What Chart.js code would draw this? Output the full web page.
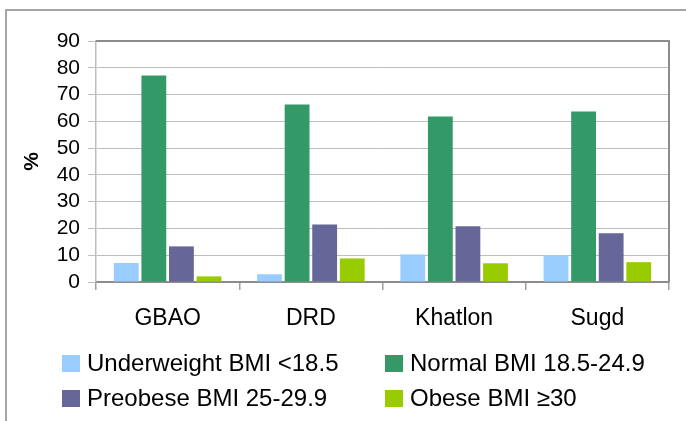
<!DOCTYPE html>
<html>
<head>
<meta charset="utf-8">
<script src="https://cdn.jsdelivr.net/npm/chart.js@4.4.1/dist/chart.umd.min.js"></script>
<style>
  html, body { margin: 0; padding: 0; background: #fff; }
  #wrap { width: 686px; height: 421px; position: relative; }
</style>
</head>
<body>
<div id="wrap"><canvas id="bmi"></canvas></div>
<script>
// --- DATA ---
const regions = ["GBAO", "DRD", "Khatlon", "Sugd"];
const underweight = [7.1, 2.9, 10.3, 10.0];
const normal = [77.1, 66.3, 61.8, 63.7];
const preobese = [13.3, 21.5, 20.8, 18.2];
const obese = [2.1, 8.8, 7.0, 7.4];
const yTicks = [0, 10, 20, 30, 40, 50, 60, 70, 80, 90];

const FONT = "'Liberation Sans', Arial, sans-serif";

// outer frame + plot box
const framePlugin = {
    id: "frame",
    beforeDraw(chart) {
        const ctx = chart.ctx;
        ctx.save();
        ctx.strokeStyle = "#a6a6a6";
        ctx.lineWidth = 2;
        ctx.strokeRect(6, 10, 760, 500);
        ctx.restore();
    },
    afterDraw(chart) {
        const a = chart.chartArea;
        const ctx = chart.ctx;
        ctx.save();
        ctx.strokeStyle = "#8c8c8c";
        ctx.lineWidth = 2;
        ctx.beginPath();
        ctx.moveTo(a.left, a.top);
        ctx.lineTo(a.right, a.top);
        ctx.lineTo(a.right, a.bottom);
        ctx.stroke();
        ctx.restore();
    }
};

// legend laid out 2 x 2 like the original
const gridLegend = {
    id: "gridLegend",
    afterDraw(chart) {
        const ctx = chart.ctx;
        const cols = [62, 385];
        const rows = [363, 398];
        ctx.save();
        ctx.font = "24px " + FONT;
        ctx.textBaseline = "middle";
        chart.data.datasets.forEach((ds, i) => {
            const x = cols[i % 2];
            const y = rows[Math.floor(i / 2)];
            ctx.fillStyle = ds.backgroundColor;
            ctx.fillRect(x, y - 8, 18, 17);
            ctx.fillStyle = "#000";
            ctx.fillText(ds.label, x + 25, y + 1);
        });
        ctx.restore();
    }
};

new Chart(document.getElementById("bmi"), {
    type: "bar",
    data: {
        labels: regions,
        datasets: [
            { label: "Underweight BMI <18.5", data: underweight, backgroundColor: "#99ccff" },
            { label: "Normal BMI 18.5-24.9", data: normal, backgroundColor: "#339966" },
            { label: "Preobese BMI 25-29.9", data: preobese, backgroundColor: "#666699" },
            { label: "Obese BMI \u226530", data: obese, backgroundColor: "#99cc00" }
        ]
    },
    options: {
        responsive: true,
        maintainAspectRatio: false,
        animation: false,
        events: [],
        categoryPercentage: 0.77,
        barPercentage: 0.9,
        layout: { padding: { left: 20, top: 41, right: 17, bottom: 83 } },
        plugins: {
            legend: { display: false },
            tooltip: { enabled: false }
        },
        scales: {
            x: {
                grid: {
                    offset: true,
                    drawOnChartArea: false,
                    drawTicks: true,
                    tickLength: 8,
                    color: "#a0a0a0",
                    lineWidth: 1.5
                },
                border: { color: "#8c8c8c", width: 2 },
                ticks: {
                    color: "#000",
                    font: { family: FONT, size: 23 },
                    padding: 15
                },
                afterFit(s) { s.height = 56; }
            },
            y: {
                min: 0,
                max: 90,
                afterBuildTicks(s) { s.ticks = yTicks.map(v => ({ value: v })); },
                grid: {
                    color: "#bdbdbd",
                    lineWidth: 1,
                    tickLength: 8
                },
                border: { color: "#bdbdbd", width: 1.5 },
                ticks: {
                    autoSkip: false,
                    color: "#000",
                    font: { family: FONT, size: 21 },
                    padding: 8
                },
                title: {
                    display: true,
                    text: "%",
                    color: "#000",
                    font: { family: FONT, size: 21, weight: "bold" },
                    padding: { top: 0, bottom: 4 }
                },
                afterFit(s) { s.width = 76; }
            }
        }
    },
    plugins: [framePlugin, gridLegend]
});
</script>
</body>
</html>
